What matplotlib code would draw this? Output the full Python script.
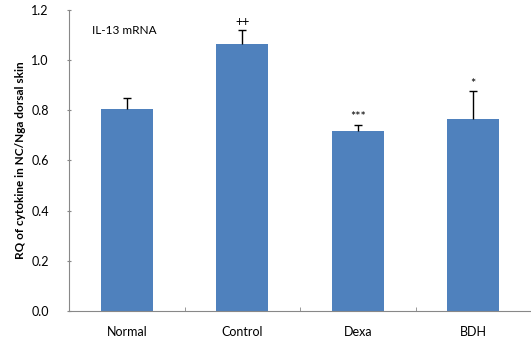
import matplotlib.pyplot as plt

# data
groups = ['Normal', 'Control', 'Dexa', 'BDH']
means = [0.807, 1.063, 0.719, 0.764]
errs = [0.042, 0.057, 0.023, 0.112]
marks = ['', '++', '***', '*']

plt.rcParams['font.family'] = ['Lato', 'DejaVu Sans']

fig = plt.figure(figsize=(5.31, 3.41), dpi=100)
ax = fig.add_axes([0.130, 0.088, 0.870, 0.883])

x = list(range(len(groups)))
tops = [m + e for m, e in zip(means, errs)]
ax.bar(x, means, width=0.45, color='#4F81BD')
# upper error bars only
ax.vlines(x, means, tops, color='black', lw=1)
ax.hlines(tops, [i - 0.035 for i in x], [i + 0.035 for i in x],
          color='black', lw=1)

for i in x:
    ax.text(i, tops[i] + 0.006, marks[i], ha='center', va='bottom',
            fontsize=9)

ax.text(0.05, 0.93, 'IL-13 mRNA', transform=ax.transAxes, fontsize=8.5,
        va='center')

ax.set_xlim(-0.5, 3.5)
ax.set_ylim(0, 1.2)
ax.set_yticks([0, 0.2, 0.4, 0.6, 0.8, 1.0, 1.2])
ax.set_yticklabels(['0.0', '0.2', '0.4', '0.6', '0.8', '1.0', '1.2'])
ax.set_xticks(x)
ax.set_xticklabels(groups)
ax.set_xticks([0.5, 1.5, 2.5], minor=True)

ax.tick_params(axis='y', length=3, direction='inout', pad=13, labelsize=9,
               color='#888888')
ax.tick_params(axis='x', which='major', length=0, pad=11, labelsize=9)
ax.tick_params(axis='x', which='minor', length=3, direction='in',
               color='#888888')

for s in ['top', 'right']:
    ax.spines[s].set_visible(False)
for s in ['left', 'bottom']:
    ax.spines[s].set_color('#888888')

ax.set_ylabel('RQ of cytokine in NC/Nga dorsal skin', fontsize=8.5,
              fontweight='bold', labelpad=4)

fig.savefig('out.png', dpi=100)
